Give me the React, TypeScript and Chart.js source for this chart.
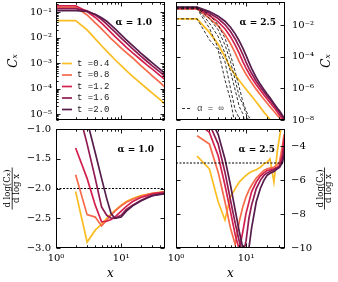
import React, { useEffect, useRef } from "react";
import { Chart, registerables } from "chart.js";

Chart.register(...registerables);

const W = 338;
const H = 282;
const SERIF = "'DejaVu Serif', serif";
const MONO = "'Liberation Mono', 'DejaVu Sans Mono', monospace";

// ---- categories ----
const tLabels = ["0.4", "0.8", "1.2", "1.6", "2.0"];
const tColors = ["#fbbd22", "#f76a4a", "#d4204e", "#921a52", "#561c4b"];

// ---- x positions ----
const xLeft = [1, 2, 3, 4, 5, 6, 7, 8, 10, 12, 15, 20, 25, 30, 40, 47];
const xLeftSlope = [2, 3, 4, 5, 6, 7, 8, 10, 12, 15, 20, 25, 30, 40, 47];
const xRight = [1, 2, 3, 4, 5, 6, 7, 8, 9, 10, 11, 12, 14, 16, 18, 20, 22, 25, 28, 30, 33, 35];
const xRightSlope = [2, 3, 4, 5, 6, 7, 8, 9, 10, 11, 12, 14, 16, 18, 20, 22, 25, 28, 30, 33, 35];
const xInfinite = [1, 2, 3, 4, 5, 6, 7, 8, 9, 10, 11, 12, 14];

// ---- alpha = 1.0 : C_x ----
const cA1_t04 = [0.0468, 0.0468, 0.02, 0.00891, 0.00479, 0.00295, 0.00195, 0.00138, 7.94e-4, 5.01e-4, 3.02e-4, 1.58e-4, 9.77e-5, 6.61e-5, 3.55e-5, 2.4e-5];
const cA1_t08 = [0.158, 0.158, 0.0776, 0.038, 0.0219, 0.0135, 0.00912, 0.00661, 0.00389, 0.00257, 0.00158, 7.94e-4, 4.79e-4, 3.16e-4, 1.66e-4, 1.12e-4];
const cA1_t12 = [0.178, 0.178, 0.105, 0.0617, 0.0372, 0.0234, 0.0158, 0.0112, 0.00646, 0.00417, 0.00251, 0.00135, 8.32e-4, 5.75e-4, 3.16e-4, 2.24e-4];
const cA1_t16 = [0.138, 0.138, 0.112, 0.0776, 0.0513, 0.0339, 0.0229, 0.0166, 0.00955, 0.00617, 0.00363, 0.00186, 0.00115, 7.76e-4, 4.27e-4, 3.02e-4];
const cA1_t20 = [0.115, 0.115, 0.106, 0.0832, 0.0603, 0.0437, 0.0309, 0.0224, 0.0129, 0.00813, 0.00479, 0.00245, 0.00151, 0.00102, 5.5e-4, 3.89e-4];

// ---- alpha = 1.0 : d log C / d log x ----
const sA1_t04 = [-2.05, -2.9, -2.7, -2.6, -2.5, -2.43, -2.37, -2.28, -2.22, -2.17, -2.12, -2.1, -2.08, -2.06, -2.05];
const sA1_t08 = [-1.77, -2.44, -2.48, -2.63, -2.53, -2.45, -2.38, -2.29, -2.23, -2.18, -2.13, -2.1, -2.08, -2.07, -2.06];
const sA1_t12 = [-1.32, -1.83, -2.28, -2.56, -2.55, -2.52, -2.48, -2.38, -2.3, -2.22, -2.15, -2.12, -2.09, -2.07, -2.06];
const sA1_t16 = [-0.5, -1.25, -1.83, -2.31, -2.45, -2.5, -2.5, -2.45, -2.35, -2.28, -2.2, -2.15, -2.12, -2.09, -2.08];
const sA1_t20 = [-0.2, -0.86, -1.4, -1.83, -2.17, -2.42, -2.5, -2.48, -2.38, -2.29, -2.21, -2.16, -2.12, -2.1, -2.09];

// ---- alpha = 2.5 : C_x ----
const cA25_t04 = [0.0257, 0.0257, 0.00355, 6.31e-4, 1.0e-4, 2.0e-5, 7.08e-6, 3.16e-6, 1.58e-6, 8.91e-7, 5.25e-7, 3.31e-7, 1.38e-7, 6.31e-8, 3.16e-8, 1.78e-8, 1.07e-8, 5.62e-9, 3.16e-9, 2.24e-9, 1.58e-9, 1.26e-9];
const cA25_t08 = [0.11, 0.11, 0.0275, 0.00912, 0.00263, 6.92e-4, 1.78e-4, 4.79e-5, 1.78e-5, 7.94e-6, 4.07e-6, 2.29e-6, 8.71e-7, 3.98e-7, 2.04e-7, 1.15e-7, 6.92e-8, 3.55e-8, 1.95e-8, 1.38e-8, 8.51e-9, 6.76e-9];
const cA25_t12 = [0.12, 0.12, 0.0417, 0.0166, 0.00603, 0.00191, 5.62e-4, 1.66e-4, 5.01e-5, 1.95e-5, 9.12e-6, 4.79e-6, 1.7e-6, 7.59e-7, 3.8e-7, 2.14e-7, 1.26e-7, 6.31e-8, 3.16e-8, 2.09e-8, 1.2e-8, 8.91e-9];
const cA25_t16 = [0.132, 0.132, 0.0589, 0.0269, 0.0112, 0.00407, 0.00135, 4.37e-4, 1.41e-4, 4.68e-5, 1.86e-5, 9.12e-6, 2.88e-6, 1.2e-6, 5.89e-7, 3.24e-7, 1.91e-7, 9.33e-8, 4.47e-8, 3.02e-8, 1.58e-8, 1.12e-8];
const cA25_t20 = [0.141, 0.141, 0.0741, 0.038, 0.0182, 0.00759, 0.00288, 0.00102, 3.55e-4, 1.23e-4, 4.47e-5, 1.86e-5, 4.79e-6, 1.82e-6, 8.51e-7, 4.47e-7, 2.57e-7, 1.12e-7, 5.62e-8, 3.8e-8, 2.0e-8, 1.32e-8];

// ---- alpha = infinity : C_x (dashed) ----
const cInf_t04 = [0.0257, 0.0257, 1.2e-3, 2.75e-4, 3.47e-6, 1.86e-7, 3.98e-9];
const cInf_t08 = [0.11, 0.11, 6.61e-3, 3.55e-4, 5.01e-5, 1.02e-6, 4.27e-8, 1.26e-8, 1.58e-9];
const cInf_t12 = [0.12, 0.12, 0.0138, 1.95e-3, 1.7e-4, 1.17e-5, 7.94e-7, 7.08e-8, 2.51e-8, 3.16e-9];
const cInf_t16 = [0.132, 0.132, 0.0282, 5.13e-3, 5.75e-4, 5.01e-5, 3.47e-6, 3.02e-7, 1.0e-7, 2.51e-8, 7.94e-9, 1.58e-9];
const cInf_t20 = [0.141, 0.141, 0.0468, 0.0107, 1.55e-3, 1.35e-4, 1.17e-5, 1.17e-6, 1.45e-7, 3.98e-8, 1.58e-8, 7.94e-9, 1.0e-9];

// ---- alpha = 2.5 : d log C / d log x ----
const sA25_t04 = [-4.6, -5.35, -7.28, -8.35, -6.99, -6.51, -6.12, -5.9, -5.73, -5.6, -5.5, -5.4, -5.25, -5.05, -4.96, -4.76, -6.12, -4.3, -3.5, -2.5, -1.5];
const sA25_t08 = [-3.4, -3.89, -5.54, -7.28, -8.83, -9.8, -8.45, -7.57, -6.99, -6.6, -6.31, -5.89, -5.64, -5.44, -5.34, -5.3, -5.25, -5.1, -4.96, -4.0, -3.3];
const sA25_t12 = [-2.6, -3.2, -4.57, -6.31, -7.86, -9.22, -10.1, -9.03, -7.96, -7.3, -6.7, -6.12, -5.77, -5.58, -5.44, -5.4, -5.34, -5.25, -5.15, -4.5, -3.5];
const sA25_t16 = [-2.0, -2.7, -3.89, -5.54, -7.19, -8.54, -9.6, -10.4, -9.6, -8.25, -7.48, -6.5, -6.02, -5.73, -5.58, -5.5, -5.4, -5.3, -5.25, -4.8, -4.0];
const sA25_t20 = [-1.6, -2.3, -3.31, -4.76, -6.31, -7.77, -9.03, -10.0, -10.6, -10.0, -8.83, -7.28, -6.5, -6.02, -5.73, -5.6, -5.5, -5.35, -5.25, -5.0, -4.5];

// ---- reference slopes ----
const refA1x = [1, 47];
const refA1y = [-2, -2];
const refA25x = [1, 36];
const refA25y = [-5, -5];

// ---- ticks ----
const xTickValues = [1, 10];
const yTicksA1C = [1e-1, 1e-2, 1e-3, 1e-4, 1e-5];
const yTicksA25C = [1e-2, 1e-4, 1e-6, 1e-8];
const yTicksA1S = [-1.0, -1.5, -2.0, -2.5, -3.0];
const yTicksA25S = [-4, -6, -8, -10];
const mantissas = [2, 3, 4, 5, 6, 7, 8, 9];

const SUP: Record<string, string> = { "-": "⁻", "0": "⁰", "1": "¹", "2": "²", "3": "³", "4": "⁴", "5": "⁵", "6": "⁶", "7": "⁷", "8": "⁸", "9": "⁹" };
const powLabel = (v: number) => "10" + String(Math.round(Math.log10(v))).split("").map((c) => SUP[c]).join("");
const decLabel = (d: number) => (v: number) => v.toFixed(d).replace("-", "−");

const pts = (xs: number[], ys: number[]) => ys.map((y, i) => ({ x: xs[i], y }));

const tSeries = (xs: number[], ys: number[], i: number) => ({
  label: `t =${tLabels[i]}`,
  data: pts(xs, ys),
  borderColor: tColors[i],
  backgroundColor: tColors[i],
  borderWidth: 1.7,
  pointRadius: 0,
  tension: 0,
  fill: false,
  clip: 0,
  order: 10 - i,
});

const infSeries = (ys: number[], i: number) => ({
  label: i === 0 ? "α = ∞" : "",
  data: pts(xInfinite, ys),
  borderColor: "#1a1a1a",
  borderWidth: 0.9,
  borderDash: [3, 2],
  pointRadius: 0,
  tension: 0,
  fill: false,
  clip: 0,
  order: 1,
});

const refSeries = (xs: number[], ys: number[]) => ({
  label: "",
  data: pts(xs, ys),
  borderColor: "#000",
  borderWidth: 1,
  borderDash: [2, 1.5],
  pointRadius: 0,
  fill: false,
  clip: 0,
  order: 0,
});

const logMinors = (lo: number, hi: number) => {
  const out: number[] = [];
  for (let e = Math.floor(Math.log10(lo)); e <= Math.ceil(Math.log10(hi)); e++) {
    mantissas.forEach((m) => {
      const v = m * Math.pow(10, e);
      if (v >= lo && v <= hi) out.push(v);
    });
  }
  return out;
};

type Deco = {
  xMajor: number[];
  xMinor: number[];
  yMajor: number[];
  yMinor: number[];
  notes: { text: string; x: number; y: number; font: string; align: CanvasTextAlign; color: string }[];
  yTitle: { lines: string[]; xs: number[]; font: string; bar?: { x: number; half: number } };
  legend?: { x: number; len: number; textX: number; y0: number; dy: number; items: number[]; font: string; color: string };
};

function makeDeco(d: Deco) {
  return {
    id: "deco",
    afterDatasetsDraw(chart: any) {
      const { ctx, chartArea: a } = chart;
      const xs = chart.scales.x;
      const ys = chart.scales.y;
      ctx.save();
      const L = Math.round(a.left) + 0.5;
      const R = Math.round(a.right) - 0.5;
      const T = Math.round(a.top) + 0.5;
      const B = Math.round(a.bottom) - 0.5;
      ctx.strokeStyle = "#000";
      ctx.lineWidth = 0.9;
      const tick = (isX: boolean, v: number, len: number) => {
        const s = isX ? xs : ys;
        const raw = s.getPixelForValue(v);
        if (isX && (raw < a.left - 0.6 || raw > a.right + 0.6)) return;
        if (!isX && (raw < a.top - 0.6 || raw > a.bottom + 0.6)) return;
        const p = Math.round(raw) + 0.5;
        ctx.beginPath();
        if (isX) {
          ctx.moveTo(p, B);
          ctx.lineTo(p, B - len);
          ctx.moveTo(p, T);
          ctx.lineTo(p, T + len);
        } else {
          ctx.moveTo(L, p);
          ctx.lineTo(L + len, p);
          ctx.moveTo(R, p);
          ctx.lineTo(R - len, p);
        }
        ctx.stroke();
      };
      d.xMajor.forEach((v) => tick(true, v, 4));
      d.xMinor.forEach((v) => tick(true, v, 2.2));
      d.yMajor.forEach((v) => tick(false, v, 4));
      d.yMinor.forEach((v) => tick(false, v, 2.2));
      ctx.lineWidth = 1;
      ctx.strokeRect(L, T, R - L, B - T);

      d.notes.forEach((n) => {
        ctx.font = n.font;
        ctx.fillStyle = n.color;
        ctx.textAlign = n.align;
        ctx.textBaseline = "middle";
        ctx.fillText(n.text, n.x, n.y);
      });

      const yc = (a.top + a.bottom) / 2;
      ctx.fillStyle = "#000";
      ctx.font = d.yTitle.font;
      d.yTitle.lines.forEach((line, k) => {
        ctx.save();
        ctx.translate(d.yTitle.xs[k], yc);
        ctx.rotate(-Math.PI / 2);
        ctx.textAlign = "center";
        ctx.textBaseline = "middle";
        ctx.fillText(line, 0, 0);
        ctx.restore();
      });
      if (d.yTitle.bar) {
        ctx.lineWidth = 0.8;
        ctx.beginPath();
        ctx.moveTo(d.yTitle.bar.x, yc - d.yTitle.bar.half);
        ctx.lineTo(d.yTitle.bar.x, yc + d.yTitle.bar.half);
        ctx.stroke();
      }

      if (d.legend) {
        const lg = d.legend;
        lg.items.forEach((di, k) => {
          const ds = chart.data.datasets[di];
          const y = lg.y0 + k * lg.dy;
          ctx.strokeStyle = ds.borderColor;
          ctx.lineWidth = ds.borderWidth;
          ctx.setLineDash(ds.borderDash || []);
          ctx.beginPath();
          ctx.moveTo(lg.x, y);
          ctx.lineTo(lg.x + lg.len, y);
          ctx.stroke();
          ctx.setLineDash([]);
          ctx.font = lg.font;
          ctx.fillStyle = lg.color;
          ctx.textAlign = "left";
          ctx.textBaseline = "middle";
          ctx.fillText(ds.label, lg.textX, y);
        });
      }
      ctx.restore();
    },
  };
}

type Panel = {
  id: string;
  pad: { left: number; right: number; top: number };
  yAxisW: number;
  xAxisH: number;
  xMax: number;
  showX: boolean;
  yType: "logarithmic" | "linear";
  yMin: number;
  yMax: number;
  ySide: "left" | "right";
  yPad: number;
  yTicks: number[];
  yLabel: (v: number) => string;
  datasets: any[];
  deco: Deco;
};

const noteFont = `bold 9px ${SERIF}`;
const titleC = `italic 12px ${SERIF}`;
const fracFont = `8.5px ${SERIF}`;

const panels: Panel[] = [
  {
    id: "a1C",
    pad: { left: 0, right: W - 165, top: 2 },
    yAxisW: 56,
    xAxisH: H - 120,
    xMax: 47,
    showX: false,
    yType: "logarithmic",
    yMin: 5.8e-6,
    yMax: 0.25,
    ySide: "left",
    yPad: 4,
    yTicks: yTicksA1C,
    yLabel: powLabel,
    datasets: [
      tSeries(xLeft, cA1_t04, 0),
      tSeries(xLeft, cA1_t08, 1),
      tSeries(xLeft, cA1_t12, 2),
      tSeries(xLeft, cA1_t16, 3),
      tSeries(xLeft, cA1_t20, 4),
    ],
    deco: {
      xMajor: xTickValues,
      xMinor: logMinors(1, 47),
      yMajor: yTicksA1C,
      yMinor: logMinors(5.8e-6, 0.25),
      notes: [{ text: "α = 1.0", x: 152, y: 23, font: noteFont, align: "right", color: "#000" }],
      yTitle: { lines: ["Cₓ"], xs: [14], font: titleC },
      legend: { x: 62, len: 10, textX: 77, y0: 63.5, dy: 11.5, items: [0, 1, 2, 3, 4], font: `9px ${MONO}`, color: "#222" },
    },
  },
  {
    id: "a25C",
    pad: { left: 176, right: 0, top: 2 },
    yAxisW: W - 285,
    xAxisH: H - 120,
    xMax: 36,
    showX: false,
    yType: "logarithmic",
    yMin: 1e-8,
    yMax: 0.3,
    ySide: "right",
    yPad: 7,
    yTicks: yTicksA25C,
    yLabel: powLabel,
    datasets: [
      tSeries(xRight, cA25_t04, 0),
      tSeries(xRight, cA25_t08, 1),
      tSeries(xRight, cA25_t12, 2),
      tSeries(xRight, cA25_t16, 3),
      tSeries(xRight, cA25_t20, 4),
      infSeries(cInf_t04, 0),
      infSeries(cInf_t08, 1),
      infSeries(cInf_t12, 2),
      infSeries(cInf_t16, 3),
      infSeries(cInf_t20, 4),
    ],
    deco: {
      xMajor: xTickValues,
      xMinor: logMinors(1, 36),
      yMajor: yTicksA25C,
      yMinor: [],
      notes: [{ text: "α = 2.5", x: 276, y: 23, font: noteFont, align: "right", color: "#000" }],
      yTitle: { lines: ["Cₓ"], xs: [327], font: titleC },
      legend: { x: 182, len: 9, textX: 197, y0: 108.5, dy: 0, items: [5], font: `9px ${MONO}`, color: "#444" },
    },
  },
  {
    id: "a1S",
    pad: { left: 0, right: W - 165, top: 129 },
    yAxisW: 56,
    xAxisH: H - 248,
    xMax: 47,
    showX: true,
    yType: "linear",
    yMin: -3,
    yMax: -1,
    ySide: "left",
    yPad: 5,
    yTicks: yTicksA1S,
    yLabel: decLabel(1),
    datasets: [
      refSeries(refA1x, refA1y),
      tSeries(xLeftSlope, sA1_t04, 0),
      tSeries(xLeftSlope, sA1_t08, 1),
      tSeries(xLeftSlope, sA1_t12, 2),
      tSeries(xLeftSlope, sA1_t16, 3),
      tSeries(xLeftSlope, sA1_t20, 4),
    ],
    deco: {
      xMajor: xTickValues,
      xMinor: logMinors(1, 47),
      yMajor: yTicksA1S,
      yMinor: [],
      notes: [{ text: "α = 1.0", x: 154, y: 150, font: noteFont, align: "right", color: "#000" }],
      yTitle: { lines: ["d log(Cₓ)", "d log x"], xs: [8, 16.5], font: fracFont, bar: { x: 12.2, half: 21 } },
    },
  },
  {
    id: "a25S",
    pad: { left: 176, right: 0, top: 129 },
    yAxisW: W - 285,
    xAxisH: H - 248,
    xMax: 36,
    showX: true,
    yType: "linear",
    yMin: -10,
    yMax: -3,
    ySide: "right",
    yPad: 6,
    yTicks: yTicksA25S,
    yLabel: decLabel(0),
    datasets: [
      refSeries(refA25x, refA25y),
      tSeries(xRightSlope, sA25_t04, 0),
      tSeries(xRightSlope, sA25_t08, 1),
      tSeries(xRightSlope, sA25_t12, 2),
      tSeries(xRightSlope, sA25_t16, 3),
      tSeries(xRightSlope, sA25_t20, 4),
    ],
    deco: {
      xMajor: xTickValues,
      xMinor: logMinors(1, 36),
      yMajor: yTicksA25S,
      yMinor: [],
      notes: [{ text: "α = 2.5", x: 275, y: 150, font: noteFont, align: "right", color: "#000" }],
      yTitle: { lines: ["d log(Cₓ)", "d log x"], xs: [320.5, 328.5], font: fracFont, bar: { x: 324.5, half: 21 } },
    },
  },
];

function makeConfig(p: Panel): any {
  const tickFont = { family: SERIF, size: 10 };
  return {
    type: "line",
    data: { datasets: p.datasets },
    options: {
      responsive: false,
      maintainAspectRatio: false,
      animation: false,
      events: [],
      layout: { padding: { left: p.pad.left, right: p.pad.right, top: p.pad.top, bottom: 0 } },
      plugins: { legend: { display: false }, tooltip: { enabled: false }, title: { display: false } },
      scales: {
        x: {
          type: "logarithmic",
          position: "bottom",
          min: 1,
          max: p.xMax,
          afterFit: (s: any) => {
            s.height = p.xAxisH;
            s.paddingLeft = 0;
            s.paddingRight = 0;
          },
          afterBuildTicks: (s: any) => {
            s.ticks = xTickValues.map((v) => ({ value: v }));
          },
          ticks: {
            display: p.showX,
            callback: (v: number) => powLabel(v),
            font: tickFont,
            color: "#000",
            padding: 4,
            maxRotation: 0,
            autoSkip: false,
          },
          grid: { display: false, drawTicks: false },
          border: { display: false },
          title: {
            display: p.showX,
            text: "x",
            font: { family: SERIF, size: 12, style: "italic" },
            color: "#000",
            padding: { top: 0, bottom: 1 },
          },
        },
        y: {
          type: p.yType,
          position: p.ySide,
          min: p.yMin,
          max: p.yMax,
          afterFit: (s: any) => {
            s.width = p.yAxisW;
            s.paddingTop = 0;
            s.paddingBottom = 0;
          },
          afterBuildTicks: (s: any) => {
            s.ticks = p.yTicks.map((v) => ({ value: v }));
          },
          ticks: {
            callback: (v: number) => p.yLabel(v),
            font: tickFont,
            color: "#000",
            padding: p.yPad,
            autoSkip: false,
          },
          grid: { display: false, drawTicks: false },
          border: { display: false },
        },
      },
    },
    plugins: [makeDeco(p.deco)],
  };
}

export default function App() {
  const canvases = useRef<(HTMLCanvasElement | null)[]>([]);
  useEffect(() => {
    const charts = panels.map((p, i) => new Chart(canvases.current[i] as HTMLCanvasElement, makeConfig(p)));
    return () => charts.forEach((c) => c.destroy());
  }, []);
  return (
    <div style={{ position: "fixed", left: 0, top: 0, width: W, height: H, background: "#fff" }}>
      {panels.map((p, i) => (
        <canvas
          key={p.id}
          ref={(el) => {
            canvases.current[i] = el;
          }}
          width={W}
          height={H}
          style={{ position: "absolute", left: 0, top: 0, width: W, height: H }}
        />
      ))}
    </div>
  );
}
